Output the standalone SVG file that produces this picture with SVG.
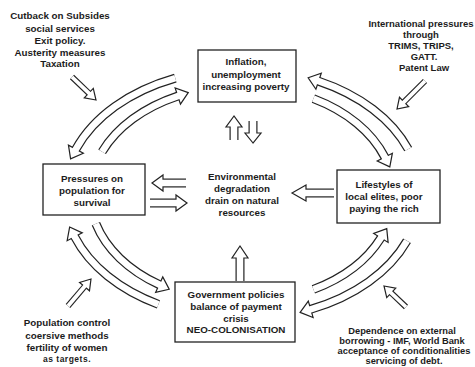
<svg xmlns="http://www.w3.org/2000/svg" width="475" height="367" viewBox="0 0 475 367">
<style>
.t{font-family:"Liberation Sans",Arial,sans-serif;font-weight:bold;font-size:9.8px;fill:#1c1c1c;text-anchor:middle}
.box{fill:#fff;stroke:#222;stroke-width:1.3}
.sb{fill:none;stroke:#222;stroke-width:9}
.sw{fill:none;stroke:#fff;stroke-width:6.6}
.eb{fill:none;stroke:#222;stroke-width:6}
.ew{fill:none;stroke:#fff;stroke-width:3.8}
.hd{fill:#fff;stroke:#222;stroke-width:1.2;stroke-linejoin:miter}
</style>
<rect width="475" height="367" fill="#fff"/>
<g id="connectors">
  <g id="a1">
    <polygon class="hd" points="70.6,158.8 68.45,145.1 83.35,153.3"/>
    <path class="sb" d="M175.3,78.1 A178,125 0 0 0 75.9,149.2"/>
    <path class="sw" d="M175.3,78.1 A178,125 0 0 0 75.9,149.2 L74.94,150.95"/>
  </g>
  <g id="a2">
    <polygon class="hd" points="188.24,92.65 180.47,104.17 175.13,88.03"/>
    <path class="sb" d="M102.1,151.8 A152,108 0 0 1 177.8,96.1"/>
    <path class="sw" d="M102.1,151.8 A152,108 0 0 1 177.8,96.1 L179.7,95.47"/>
  </g>
  <g id="a3">
    <polygon class="hd" points="308.17,77.71 321.29,73.14 315.91,89.26"/>
    <path class="sb" d="M408.2,149.2 A178,125 0 0 0 318.6,81.2"/>
    <path class="sw" d="M408.2,149.2 A178,125 0 0 0 318.6,81.2 L316.7,80.57"/>
  </g>
  <g id="a4">
    <polygon class="hd" points="389.8,166.9 377.23,160.98 392.37,153.22"/>
    <path class="sb" d="M313.4,98.6 A152,108 0 0 1 384.8,157.1"/>
    <path class="sw" d="M313.4,98.6 A152,108 0 0 1 384.8,157.1 L385.71,158.88"/>
  </g>
  <g id="a5">
    <polygon class="hd" points="69.64,227.03 82.25,232.89 67.15,240.71"/>
    <path class="sb" d="M158.4,304.4 A178,125 0 0 1 74.7,236.8"/>
    <path class="sw" d="M158.4,304.4 A178,125 0 0 1 74.7,236.8 L73.78,235.02"/>
  </g>
  <g id="a6">
    <polygon class="hd" points="169.19,289.21 155.64,292.32 162.76,276.88"/>
    <path class="sb" d="M95.9,223.8 A152,108 0 0 0 159.2,284.6"/>
    <path class="sw" d="M95.9,223.8 A152,108 0 0 0 159.2,284.6 L161.02,285.44"/>
  </g>
  <g id="a7">
    <polygon class="hd" points="300.15,312.4 308.3,301.15 313.1,317.45"/>
    <path class="sb" d="M407,240.8 A178,125 0 0 1 310.7,309.3"/>
    <path class="sw" d="M407,240.8 A178,125 0 0 1 310.7,309.3 L308.78,309.86"/>
  </g>
  <g id="a8">
    <polygon class="hd" points="386.74,228.57 388.11,242.41 373.69,233.39"/>
    <path class="sb" d="M313.4,289.4 A152,108 0 0 0 380.9,237.9"/>
    <path class="sw" d="M313.4,289.4 A152,108 0 0 0 380.9,237.9 L381.96,236.2"/>
  </g>
  <g id="m1">
    <polygon class="hd" points="240,246 232,258 248,258"/>
    <path class="sb" d="M240,281 L240,258"/>
    <path class="sw" d="M240,281 L240,256"/>
  </g>
  <g id="m2">
    <polygon class="hd" points="234,116 226,127 242,127"/>
    <path class="sb" d="M234,140 L234,127"/>
    <path class="sw" d="M234,140 L234,125"/>
  </g>
  <g id="m3">
    <polygon class="hd" points="253,143 245,133 261,133"/>
    <path class="sb" d="M253,121 L253,133"/>
    <path class="sw" d="M253,121 L253,135"/>
  </g>
  <g id="m4">
    <polygon class="hd" points="152,183 163,175 163,191"/>
    <path class="sb" d="M186,183 L163,183"/>
    <path class="sw" d="M186,183 L161,183"/>
  </g>
  <g id="m5">
    <polygon class="hd" points="187,203 176,195 176,211"/>
    <path class="sb" d="M150,203 L176,203"/>
    <path class="sw" d="M150,203 L178,203"/>
  </g>
  <g id="m6">
    <polygon class="hd" points="292,193 306,185 306,201"/>
    <path class="sb" d="M334,193 L306,193"/>
    <path class="sw" d="M334,193 L304,193"/>
  </g>
  <g id="e1">
    <polygon class="hd" points="96,100 84.28,97.77 93.28,88.39"/>
    <path class="eb" d="M72,77 L88.78,93.08"/>
    <path class="ew" d="M72,77 L90.22,94.46"/>
  </g>
  <g id="e2">
    <polygon class="hd" points="397,109 399.47,97.33 408.67,106.53"/>
    <path class="eb" d="M425,81 L404.07,101.93"/>
    <path class="ew" d="M425,81 L402.66,103.34"/>
  </g>
  <g id="e3">
    <polygon class="hd" points="91,279 89.47,290.82 79.57,282.4"/>
    <path class="eb" d="M68,306 L84.52,286.61"/>
    <path class="ew" d="M68,306 L85.82,285.09"/>
  </g>
  <g id="e4">
    <polygon class="hd" points="384,286 395.72,288.2 386.74,297.6"/>
    <path class="eb" d="M406,307 L391.23,292.9"/>
    <path class="ew" d="M406,307 L389.78,291.52"/>
  </g>
</g>
<g id="n-inflation">
  <rect class="box" x="198" y="50" width="98" height="52"/>
  <text class="t" x="246" y="65">Inflation,</text>
  <text class="t" x="246" y="77.5">unemployment</text>
  <text class="t" x="246" y="89.5">increasing poverty</text>
</g>
<g id="n-pressures">
  <rect class="box" x="43" y="164" width="102" height="51"/>
  <text class="t" x="92" y="182.3">Pressures on</text>
  <text class="t" x="92" y="194.3">population for</text>
  <text class="t" x="92" y="206">survival</text>
</g>
<g id="n-lifestyles">
  <rect class="box" x="337" y="170" width="103" height="53"/>
  <text class="t" x="384" y="188.3">Lifestyles of</text>
  <text class="t" x="384" y="199.8">local elites, poor</text>
  <text class="t" x="384" y="211.7">paying the rich</text>
</g>
<g id="n-government">
  <rect class="box" x="175" y="282" width="120" height="60"/>
  <text class="t" x="236" y="298.3">Government policies</text>
  <text class="t" x="236" y="310">balance of payment</text>
  <text class="t" x="236" y="321.7">crisis</text>
  <text class="t" x="236" y="333.3">NEO-COLONISATION</text>
</g>
<g id="n-environment">
  <text class="t" x="242" y="180">Environmental</text>
  <text class="t" x="242" y="192.3">degradation</text>
  <text class="t" x="242" y="204.3">drain on natural</text>
  <text class="t" x="242" y="216">resources</text>
</g>
<g id="n-cutback">
  <text class="t" x="60" y="19">Cutback on Subsides</text>
  <text class="t" x="60" y="31.5">social services</text>
  <text class="t" x="60" y="43.5">Exit policy.</text>
  <text class="t" x="60" y="55.5">Austerity measures</text>
  <text class="t" x="60" y="67">Taxation</text>
</g>
<g id="n-international">
  <text class="t" x="421" y="27.3" style="font-size:9.5px">International pressures</text>
  <text class="t" x="421" y="38.3" style="font-size:9.5px">through</text>
  <text class="t" x="421" y="49" style="font-size:9.5px">TRIMS, TRIPS,</text>
  <text class="t" x="424" y="60" style="font-size:9.5px">GATT.</text>
  <text class="t" x="424" y="70.7" style="font-size:9.5px">Patent Law</text>
</g>
<g id="n-population">
  <text class="t" x="67" y="326">Population control</text>
  <text class="t" x="67" y="338.5">coersive methods</text>
  <text class="t" x="67" y="351">fertility of women</text>
  <text class="t" x="67" y="361.7" style="font-size:8.5px;letter-spacing:0.5px">as targets.</text>
</g>
<g id="n-dependence">
  <text class="t" x="402" y="334" style="font-size:9.3px">Dependence on external</text>
  <text class="t" x="402" y="344.3" style="font-size:9.3px">borrowing - IMF, World Bank</text>
  <text class="t" x="404" y="354.3" style="font-size:9.3px">acceptance of conditionalities</text>
  <text class="t" x="404" y="364.3" style="font-size:9.3px">servicing of debt.</text>
</g>
</svg>
